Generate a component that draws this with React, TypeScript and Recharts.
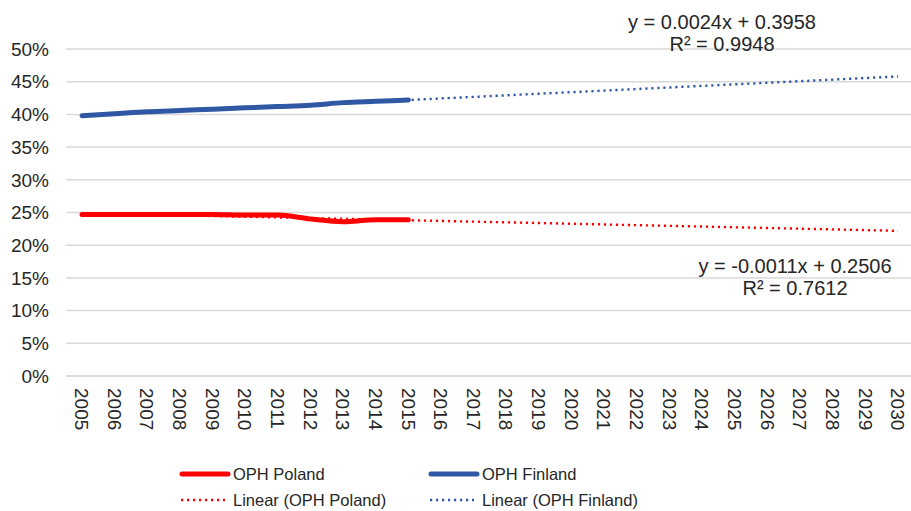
import React from 'react';
import { LineChart, Line, XAxis, YAxis, CartesianGrid } from 'recharts';

const years = [
  '2005', '2006', '2007', '2008', '2009', '2010', '2011', '2012', '2013',
  '2014', '2015', '2016', '2017', '2018', '2019', '2020', '2021', '2022',
  '2023', '2024', '2025', '2026', '2027', '2028', '2029', '2030',
];

// OPH share in %, observed 2005-2015
const ophPoland = [24.7, 24.7, 24.7, 24.7, 24.7, 24.6, 24.6, 24.0, 23.6, 23.9, 23.9];
const ophFinland = [39.8, 40.1, 40.4, 40.6, 40.8, 41.0, 41.2, 41.4, 41.8, 42.0, 42.2];

// linear trend end points (2005 and 2030)
const trendPoland = [24.9, 22.2];
const trendFinland = [39.8, 45.8];

const yTicks = [0, 5, 10, 15, 20, 25, 30, 35, 40, 45, 50];

const RED = '#ff0000';
const BLUE = '#2f57a3';
const FONT = '"Liberation Sans", Arial, sans-serif';
const TEXT = '#262626';
const DOTS = '2.2 3.8';

const data = years.map((year, i) => ({
  year,
  poland: i < ophPoland.length ? ophPoland[i] : null,
  finland: i < ophFinland.length ? ophFinland[i] : null,
  trendPoland: i === 0 ? trendPoland[0] : i === years.length - 1 ? trendPoland[1] : null,
  trendFinland: i === 0 ? trendFinland[0] : i === years.length - 1 ? trendFinland[1] : null,
}));

const YearTick = ({ x, y, payload }: { x?: number; y?: number; payload?: { value: string } }) => (
  <text
    transform={`translate(${x},${y}) rotate(90)`}
    x={0}
    y={0}
    dy="0.36em"
    textAnchor="start"
    fontSize={19}
    fontFamily={FONT}
    fill={TEXT}
  >
    {payload?.value}
  </text>
);

const LegendItem = ({ color, dotted, label }: { color: string; dotted?: boolean; label: string }) => (
  <div style={{ display: 'flex', alignItems: 'center', height: 26 }}>
    <svg width={54} height={10}>
      {dotted ? (
        <line x1={2} y1={5} x2={46} y2={5} stroke={color} strokeWidth={2.4} strokeDasharray={DOTS} />
      ) : (
        <line x1={3} y1={5} x2={49} y2={5} stroke={color} strokeWidth={5} strokeLinecap="round" />
      )}
    </svg>
    <span style={{ fontSize: 16.5, fontFamily: FONT, color: TEXT }}>{label}</span>
  </div>
);

const eqStyle: React.CSSProperties = {
  position: 'absolute',
  fontSize: 20,
  fontFamily: FONT,
  color: TEXT,
  lineHeight: '22px',
  textAlign: 'center',
  whiteSpace: 'nowrap',
  transform: 'translateX(-50%)',
};

export default function App() {
  return (
    <div style={{ position: 'absolute', left: 0, top: 0, width: 911, height: 511, background: '#fff' }}>
      <LineChart
        width={911}
        height={511}
        data={data}
        margin={{ top: 49, right: 0, left: 0, bottom: 75 }}
      >
        <CartesianGrid vertical={false} stroke="#d9d9d9" strokeWidth={1.5} />
        <XAxis
          dataKey="year"
          interval={0}
          height={60}
          padding={{ left: 16, right: 13 }}
          axisLine={{ stroke: '#d9d9d9', strokeWidth: 1.5 }}
          tickLine={false}
          tickSize={0}
          tick={<YearTick />}
          tickMargin={12}
        />
        <YAxis
          width={66}
          domain={[0, 50]}
          ticks={yTicks}
          axisLine={false}
          tickLine={false}
          tickSize={0}
          tickMargin={17}
          tickFormatter={(v) => `${v}%`}
          tick={{ fontSize: 19, fill: TEXT, fontFamily: FONT }}
        />
        <Line
          dataKey="trendPoland"
          stroke={RED}
          strokeWidth={2.4}
          strokeDasharray={DOTS}
          dot={false}
          connectNulls
          isAnimationActive={false}
        />
        <Line
          dataKey="trendFinland"
          stroke={BLUE}
          strokeWidth={2.4}
          strokeDasharray={DOTS}
          dot={false}
          connectNulls
          isAnimationActive={false}
        />
        <Line
          type="monotone"
          dataKey="poland"
          stroke={RED}
          strokeWidth={5}
          strokeLinecap="round"
          dot={false}
          isAnimationActive={false}
        />
        <Line
          type="monotone"
          dataKey="finland"
          stroke={BLUE}
          strokeWidth={5}
          strokeLinecap="round"
          dot={false}
          isAnimationActive={false}
        />
      </LineChart>

      <div style={{ ...eqStyle, left: 722, top: 11 }}>
        y = 0.0024x + 0.3958
        <br />
        R² = 0.9948
      </div>
      <div style={{ ...eqStyle, left: 795, top: 255 }}>
        y = -0.0011x + 0.2506
        <br />
        R² = 0.7612
      </div>

      <div style={{ position: 'absolute', left: 179, top: 461 }}>
        <LegendItem color={RED} label="OPH Poland" />
        <LegendItem color={RED} dotted label="Linear (OPH Poland)" />
      </div>
      <div style={{ position: 'absolute', left: 428, top: 461 }}>
        <LegendItem color={BLUE} label="OPH Finland" />
        <LegendItem color={BLUE} dotted label="Linear (OPH Finland)" />
      </div>
    </div>
  );
}
